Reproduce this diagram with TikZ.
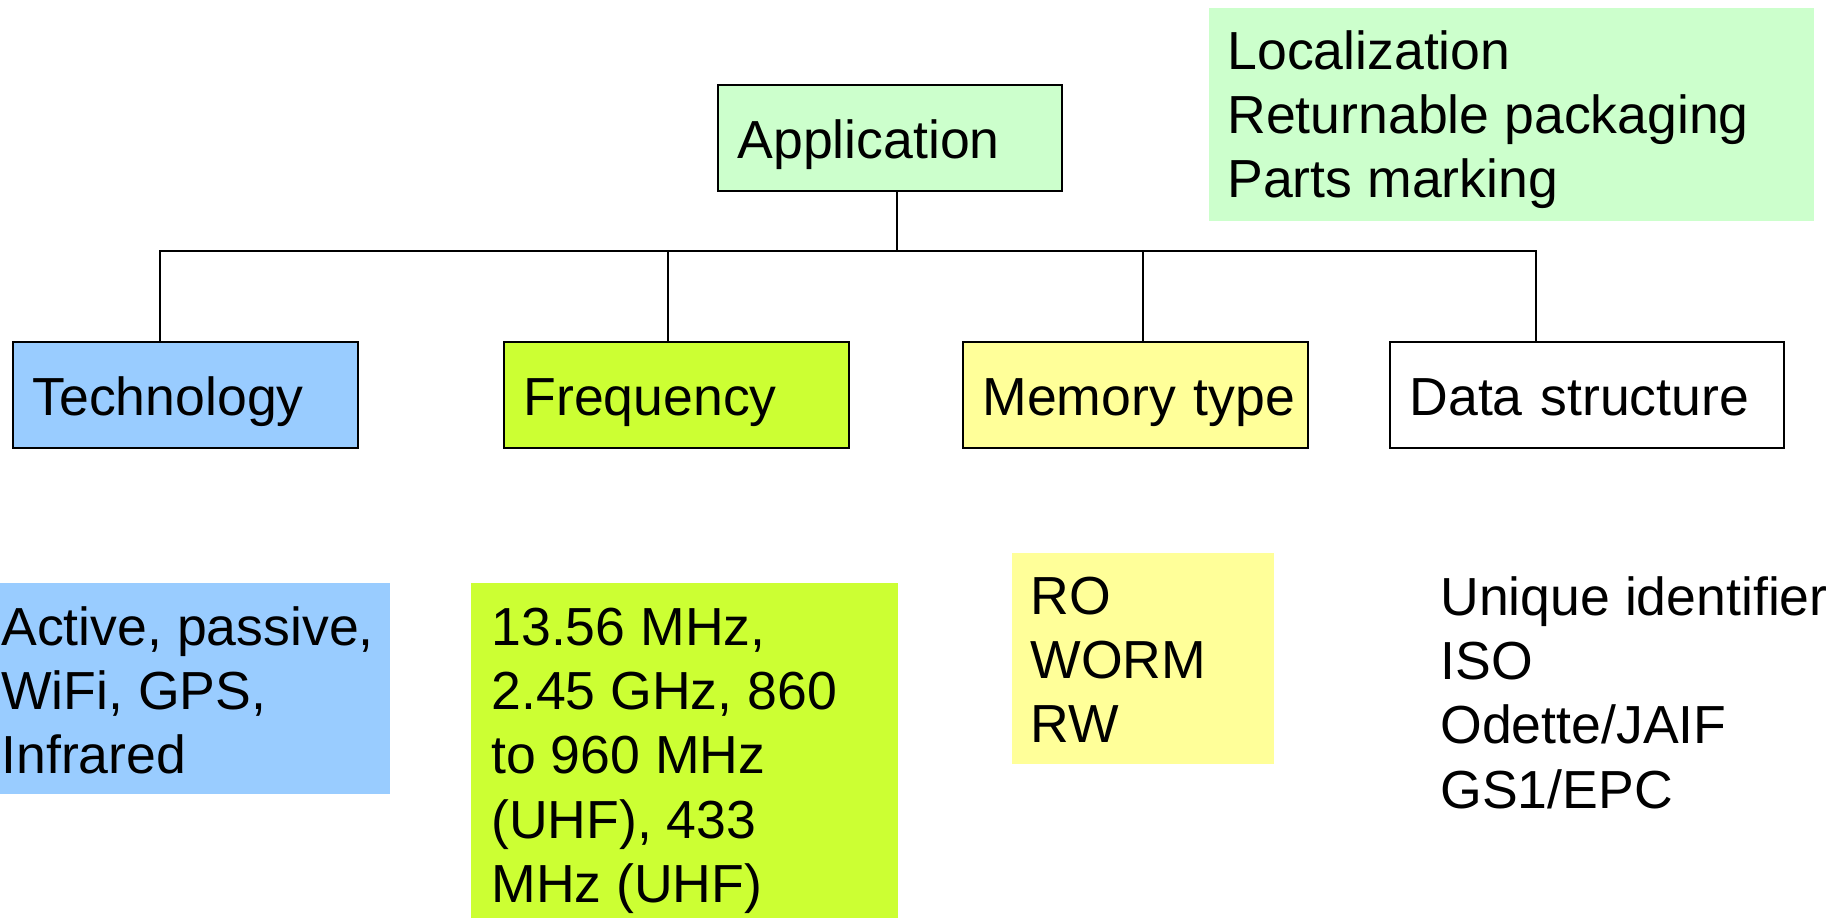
\documentclass[tikz,border=0pt]{standalone}
\usepackage{fontspec}
\setmainfont{Liberation Sans}
\usetikzlibrary{calc}
\definecolor{appgreen}{HTML}{CCFFCC}
\definecolor{techblue}{HTML}{99CCFF}
\definecolor{freqlime}{HTML}{CCFF33}
\definecolor{memyellow}{HTML}{FFFF99}
\tikzset{
  bigfont/.style={font=\fontsize{26.8}{32.1}\selectfont},
  hdr/.style={draw=black, line width=1pt, anchor=north west, minimum height=53pt,
    inner ysep=0pt, inner xsep=9.75pt, text height=21pt, text depth=1pt,
    align=left, bigfont},
  fillbox/.style={anchor=north west, inner sep=0pt, draw=none},
  txt/.style={anchor=north west, inner sep=0pt, align=left, bigfont},
  conn/.style={draw=black, line width=1pt},
}
\begin{document}
\begin{tikzpicture}[x=0.5pt, y=-0.5pt]
\useasboundingbox (0,0) rectangle (1836,918);

% detail backgrounds
\node[fillbox, fill=appgreen, minimum width=302.5pt, minimum height=106.5pt] (locbg) at (1209,8) {};
\node[fillbox, fill=techblue, minimum width=195pt, minimum height=105.5pt] (techbg) at (0,583) {};
\node[fillbox, fill=freqlime, minimum width=213.5pt, minimum height=167.5pt] (freqbg) at (471,583) {};
\node[fillbox, fill=memyellow, minimum width=131pt, minimum height=105.5pt] (membg) at (1012,553) {};

% detail texts
\node[txt] (loctxt) at (1227,27) {\rule{0pt}{21pt}Localization\\Returnable packaging\\Parts marking};
\node[txt] (techtxt) at (1,603) {\rule{0pt}{21pt}Active, passive,\\WiFi, GPS,\\Infrared};
\node[txt] (freqtxt) at (491,603) {\rule{0pt}{21pt}13.56 MHz,\\2.45 GHz, 860\\to 960 MHz\\(UHF), 433\\MHz (UHF)};
\node[txt] (memtxt) at (1030,572) {\rule{0pt}{21pt}RO\\WORM\\RW};
\node[txt] (datatxt) at (1440,573) {\rule{0pt}{21pt}Unique identifier\\ISO\\Odette/JAIF\\GS1/EPC};

% header boxes
\node[hdr, fill=appgreen, text width=152.5pt] (app) at (717,84) {\mbox{Application}};
\node[hdr, fill=techblue, text width=153pt] (tech) at (12,341) {\mbox{Technology}};
\node[hdr, fill=freqlime, text width=153pt] (freq) at (503,341) {\mbox{Frequency}};
\node[hdr, fill=memyellow, text width=153pt] (mem) at (962,341) {\mbox{Memory type}};
\node[hdr, fill=white, text width=177.5pt] (data) at (1389,341) {\mbox{Data structure}};

% connector points
\coordinate (bus) at (0,251);
\coordinate (as) at ([xshift=90pt]app.south west);
\coordinate (ts) at ([xshift=74pt]tech.north west);
\coordinate (fs) at ([xshift=82.5pt]freq.north west);
\coordinate (ms) at ([xshift=90.3pt]mem.north west);
\coordinate (ds) at ([xshift=73.5pt]data.north west);

\draw[conn] (as) -- (as |- bus);
\draw[conn] (ts) -- (ts |- bus) -- (ds |- bus) -- (ds);
\draw[conn] (fs |- bus) -- (fs);
\draw[conn] (ms |- bus) -- (ms);
\end{tikzpicture}
\end{document}
